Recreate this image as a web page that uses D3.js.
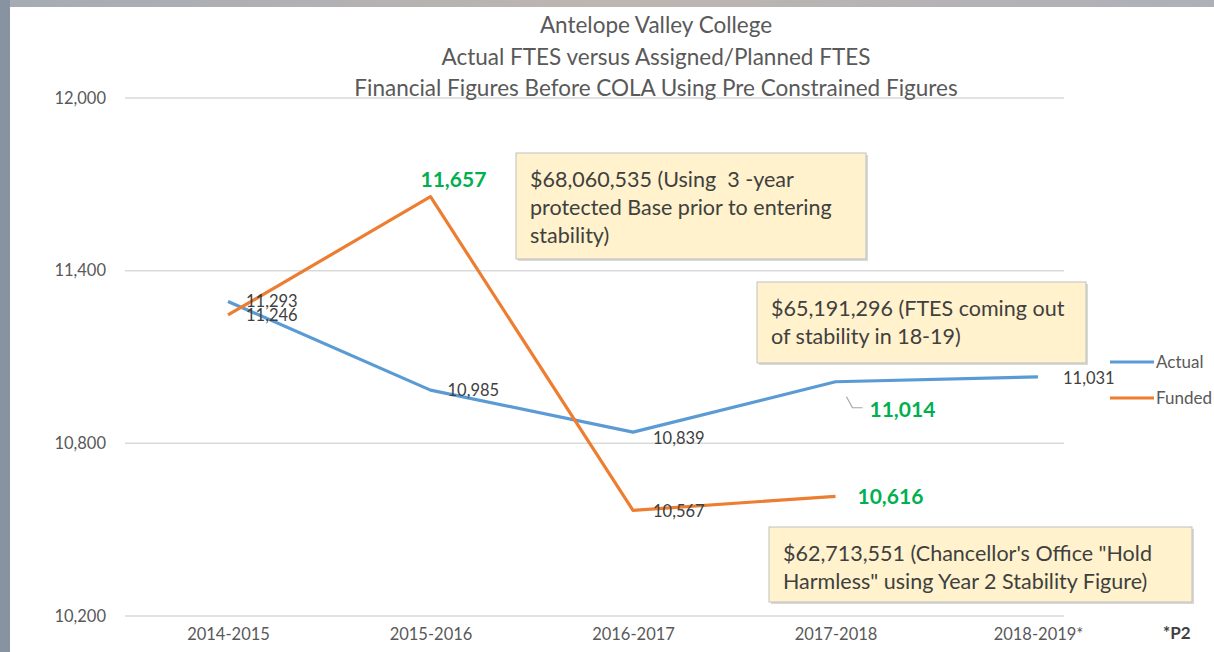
<!DOCTYPE html>
<html lang="en">
<head>
<meta charset="utf-8">
<title>Antelope Valley College - Actual FTES versus Assigned/Planned FTES</title>
<script src="https://cdn.jsdelivr.net/npm/d3@7"></script>
<style>
  body { margin: 0; background: #fff; }
  svg text { font-family: Lato, "Open Sans", sans-serif; }
</style>
</head>
<body>
<script>
var years = ["2014-2015", "2015-2016", "2016-2017", "2017-2018", "2018-2019*"];
var actual = [11293, 10985, 10839, 11014, 11031];
var funded = [11246, 11657, 10567, 10616];
var yTicks = [10200, 10800, 11400, 12000];
var titleLines = [
  "Antelope Valley College",
  "Actual FTES versus Assigned/Planned FTES",
  "Financial Figures Before COLA Using Pre Constrained Figures"
];
var notes = [
  ["$68,060,535 (Using  3 -year", "protected Base prior to entering", "stability)"],
  ["$65,191,296 (FTES coming out", "of stability in 18-19)"],
  ["$62,713,551 (Chancellor's Office \"Hold", "Harmless\" using Year 2 Stability Figure)"]
];

var w = 1214, h = 652;

var svg = d3.select("body").append("svg")
  .attr("width", w)
  .attr("height", h);

// frame like the screenshot edges
var grad = svg.append("defs").append("linearGradient").attr("id", "topbar");
grad.append("stop").attr("offset", "0%").attr("stop-color", "#a6abb4");
grad.append("stop").attr("offset", "50%").attr("stop-color", "#bdb6b2");
grad.append("stop").attr("offset", "100%").attr("stop-color", "#aeb0b8");
svg.append("rect").attr("x", 0).attr("y", 0).attr("width", w).attr("height", 7).attr("fill", "url(#topbar)");
svg.append("rect").attr("x", 0).attr("y", 0).attr("width", 10).attr("height", h).attr("fill", "#8893a2");

var x = d3.scalePoint().domain(years).range([228, 1038]);
var y = d3.scaleLinear().domain([10200, 12000]).range([616, 98]);

// gridlines
svg.append("g")
  .selectAll("line")
  .data(yTicks)
  .enter().append("line")
  .attr("x1", 125).attr("x2", 1064)
  .attr("y1", function(d) { return y(d); })
  .attr("y2", function(d) { return y(d); })
  .attr("stroke", "#d9d9d9")
  .attr("stroke-width", 1.5);

// y axis labels
var yAxis = d3.axisLeft(y).tickValues(yTicks).tickSize(0).tickPadding(0).tickFormat(d3.format(","));
svg.append("g")
  .attr("transform", "translate(106,0)")
  .call(yAxis)
  .call(function(g) { g.select(".domain").remove(); })
  .selectAll("text")
    .attr("font-size", 16.5)
    .attr("fill", "#595959")
    .style("font-family", "Lato, sans-serif");

// x axis labels
var xAxis = d3.axisBottom(x).tickSize(0).tickPadding(0);
svg.append("g")
  .attr("transform", "translate(0,628)")
  .call(xAxis)
  .call(function(g) { g.select(".domain").remove(); })
  .selectAll("text")
    .attr("font-size", 16.5)
    .attr("fill", "#595959")
    .style("font-family", "Lato, sans-serif");

svg.append("text")
  .attr("x", 1163).attr("y", 639)
  .attr("font-size", 17).attr("font-weight", "bold")
  .attr("fill", "#404040")
  .text("*P2");

// title
svg.append("g").selectAll("text")
  .data(titleLines)
  .enter().append("text")
  .attr("x", 656)
  .attr("y", function(d, i) { return 33 + i * 31.5; })
  .attr("text-anchor", "middle")
  .attr("font-size", 22.5)
  .attr("fill", "#595959")
  .text(function(d) { return d; });

// lines
var line = d3.line()
  .x(function(d, i) { return x(years[i]); })
  .y(function(d) { return y(d); });

svg.append("path")
  .datum(actual)
  .attr("d", line)
  .attr("fill", "none")
  .attr("stroke", "#5b9bd5")
  .attr("stroke-width", 3.2)
  .attr("stroke-linejoin", "round");

svg.append("path")
  .datum(funded)
  .attr("d", line)
  .attr("fill", "none")
  .attr("stroke", "#ed7d31")
  .attr("stroke-width", 3.2)
  .attr("stroke-linejoin", "round");

// data labels
var fmt = d3.format(",");
var plainLabels = [
  { v: actual[0], i: 0, dx: 18, dy: 6 },
  { v: funded[0], i: 0, dx: 18, dy: 6 },
  { v: actual[1], i: 1, dx: 17, dy: 6 },
  { v: actual[2], i: 2, dx: 20, dy: 12 },
  { v: funded[2], i: 2, dx: 20, dy: 7 },
  { v: actual[4], i: 4, dx: 25, dy: 7 }
];
svg.append("g").selectAll("text")
  .data(plainLabels)
  .enter().append("text")
  .attr("x", function(d) { return x(years[d.i]) + d.dx; })
  .attr("y", function(d) { return y(d.v) + d.dy; })
  .attr("font-size", 16.5)
  .attr("fill", "#404040")
  .text(function(d) { return fmt(d.v); });

var greenLabels = [
  { v: funded[1], i: 1, dx: -10, dy: -10 },
  { v: actual[3], i: 3, dx: 34, dy: 35 },
  { v: funded[3], i: 3, dx: 22, dy: 8 }
];
svg.append("g").selectAll("text")
  .data(greenLabels)
  .enter().append("text")
  .attr("x", function(d) { return x(years[d.i]) + d.dx; })
  .attr("y", function(d) { return y(d.v) + d.dy; })
  .attr("font-size", 21)
  .attr("font-weight", "bold")
  .attr("fill", "#00b050")
  .text(function(d) { return fmt(d.v); });

// leader line for 11,014
var lx = x(years[3]), ly = y(actual[3]);
svg.append("path")
  .attr("d", "M" + (lx + 11) + "," + (ly + 15) + "L" + (lx + 17) + "," + (ly + 26) + "L" + (lx + 27) + "," + (ly + 26))
  .attr("fill", "none")
  .attr("stroke", "#a6a6a6")
  .attr("stroke-width", 1.2);

// legend
var legend = svg.append("g");
[["Actual", "#5b9bd5", 362], ["Funded", "#ed7d31", 398]].forEach(function(d) {
  legend.append("line")
    .attr("x1", 1110).attr("x2", 1154)
    .attr("y1", d[2]).attr("y2", d[2])
    .attr("stroke", d[1]).attr("stroke-width", 3.2);
  legend.append("text")
    .attr("x", 1156).attr("y", d[2] + 6)
    .attr("font-size", 17)
    .attr("fill", "#595959")
    .text(d[0]);
});

// annotation boxes
var boxes = [
  { x: 516, y: 153, w: 350, h: 106, lines: notes[0] },
  { x: 757, y: 282, w: 329, h: 81, lines: notes[1] },
  { x: 769, y: 527, w: 423, h: 75, lines: notes[2] }
];
boxes.forEach(function(b) {
  var g = svg.append("g");
  g.append("rect")
    .attr("x", b.x + 2).attr("y", b.y + 2)
    .attr("width", b.w).attr("height", b.h)
    .attr("fill", "#d9d9d9");
  g.append("rect")
    .attr("x", b.x).attr("y", b.y)
    .attr("width", b.w).attr("height", b.h)
    .attr("fill", "#fff2cc")
    .attr("stroke", "#bfbfbf")
    .attr("stroke-width", 1);
  g.selectAll("text")
    .data(b.lines)
    .enter().append("text")
    .attr("x", b.x + 14)
    .attr("y", function(d, i) { return b.y + 34 + i * 28; })
    .attr("font-size", 21.5)
    .attr("fill", "#404040")
    .style("white-space", "pre")
    .text(function(d) { return d; });
});
</script>
</body>
</html>
